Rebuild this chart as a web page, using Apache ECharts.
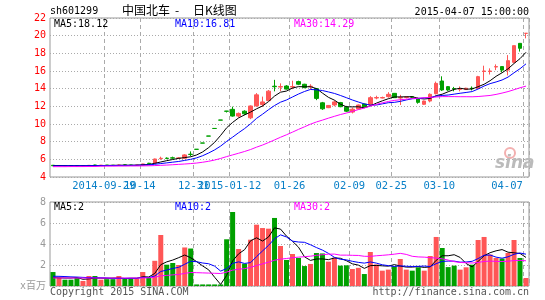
<!DOCTYPE html>
<html><head><meta charset="utf-8">
<script src="https://cdn.jsdelivr.net/npm/echarts@6/dist/echarts.min.js"></script>
<style>html,body{margin:0;padding:0;background:#fff}#c{width:545px;height:300px}</style>
</head><body><div id="c"></div>
<script>
const stockCode = 'sh601299';
const stockName = '中国北车';
const chartKind = '日K线图';
const timestamp = '2015-04-07 15:00:00';
const priceLegend = ['MA5:18.12', 'MA10:16.81', 'MA30:14.29'];
const volLegend = ['MA5:2', 'MA10:2', 'MA30:2'];
const volUnit = 'x百万';
const copyrightText = 'Copyright 2015 SINA.COM';
const siteText = 'http://finance.sina.com.cn';

const dates = ['2014-09-16','2014-09-17','2014-09-18','2014-09-19','2014-09-22','2014-09-23','2014-09-24','2014-09-25','2014-09-26','2014-09-29',
'2014-09-30','2014-10-08','2014-10-09','2014-10-10','2014-10-13','2014-10-14','2014-10-15','2014-10-16','2014-10-17','2014-10-20',
'2014-10-21','2014-10-22','2014-10-23','2014-10-24','2014-12-31','2015-01-05','2015-01-06','2015-01-07','2015-01-08','2015-01-09',
'2015-01-12','2015-01-13','2015-01-14','2015-01-15','2015-01-16','2015-01-19','2015-01-20','2015-01-21','2015-01-22','2015-01-23',
'2015-01-26','2015-01-27','2015-01-28','2015-01-29','2015-01-30','2015-02-02','2015-02-03','2015-02-04','2015-02-05','2015-02-06',
'2015-02-09','2015-02-10','2015-02-11','2015-02-12','2015-02-13','2015-02-16','2015-02-17','2015-02-25','2015-02-26','2015-02-27',
'2015-03-02','2015-03-03','2015-03-04','2015-03-05','2015-03-06','2015-03-10','2015-03-11','2015-03-12','2015-03-13','2015-03-16',
'2015-03-17','2015-03-18','2015-03-19','2015-03-20','2015-03-30','2015-03-31','2015-04-01','2015-04-02','2015-04-03','2015-04-07'];

const tickDates = ['2014-09-29','2014-10-14','2014-12-31','2015-01-12','2015-01-26','2015-02-09','2015-02-25','2015-03-10','2015-04-07'];
const tickLabels = ['2014-09-29','10-14','12-31','2015-01-12','01-26','02-09','02-25','03-10','04-07'];

const opens = [5.33,5.27,5.30,5.29,5.28,5.26,5.28,5.36,5.31,5.34,
5.33,5.31,5.37,5.35,5.33,5.36,5.56,5.55,6.08,6.13,
6.17,6.12,6.12,6.58,7.14,7.85,8.64,9.50,10.45,11.46,
11.66,10.90,11.45,10.70,12.05,12.20,12.65,14.28,14.18,14.30,
14.18,14.80,14.50,14.22,14.00,12.40,11.85,12.15,12.42,11.90,
11.35,11.70,12.26,12.15,12.94,12.94,13.10,13.47,12.94,13.02,
13.08,12.83,12.23,12.60,13.43,14.87,14.23,14.00,13.92,13.90,
14.05,14.04,15.95,15.95,16.45,16.50,16.10,16.98,19.13,20.26];
const closes = [5.27,5.30,5.28,5.27,5.26,5.28,5.32,5.31,5.34,5.32,
5.31,5.36,5.35,5.33,5.36,5.48,5.52,6.04,6.12,6.10,
6.14,6.16,6.50,6.55,7.13,7.84,8.63,9.49,10.44,11.44,
10.90,11.20,11.15,12.04,13.30,12.50,13.72,14.22,14.24,13.95,
14.24,14.50,14.12,14.28,12.90,11.72,12.10,12.50,11.96,11.45,
11.68,12.15,11.98,12.98,13.00,13.00,13.36,12.98,13.00,13.06,
13.04,12.45,12.60,13.36,14.60,13.85,13.85,13.96,13.98,14.05,
14.00,15.36,16.00,16.00,16.50,16.10,17.17,18.87,18.57,20.27];
const lows = [5.25,5.25,5.26,5.25,5.24,5.25,5.26,5.29,5.30,5.30,
5.29,5.30,5.32,5.31,5.32,5.35,5.48,5.52,5.95,6.02,
6.05,6.05,6.05,6.35,7.13,7.84,8.63,9.49,10.44,11.30,
10.83,10.75,11.00,10.55,11.95,11.95,12.60,13.70,13.72,13.90,
13.95,14.40,14.05,13.90,12.70,11.60,11.80,12.00,11.90,11.35,
11.20,11.65,11.90,12.10,12.80,12.90,12.98,12.95,12.15,12.90,
12.95,12.30,12.15,12.45,13.36,13.75,13.75,13.70,13.70,13.85,
13.80,14.00,14.90,15.60,16.10,15.85,15.50,16.90,18.20,19.70];
const highs = [5.35,5.32,5.31,5.30,5.30,5.29,5.34,5.38,5.36,5.35,
5.34,5.40,5.40,5.37,5.38,5.50,5.60,6.08,6.30,6.22,
6.30,6.25,6.58,6.90,7.14,7.85,8.64,9.50,10.45,11.48,
11.96,11.30,11.55,12.10,13.50,13.10,13.85,15.00,14.60,14.40,
14.90,14.90,14.55,14.50,14.05,12.50,12.15,12.65,12.50,12.05,
11.85,12.20,12.30,13.15,13.20,13.10,13.60,13.50,13.30,13.12,
13.12,12.98,12.65,13.47,14.80,15.40,14.30,14.20,14.25,14.10,
14.25,15.45,16.60,16.30,16.75,16.50,17.80,18.87,19.13,20.27];
const volumes = [1.33,0.76,0.60,0.60,0.76,0.48,0.95,0.95,0.60,0.65,
0.65,0.95,0.70,0.70,0.70,1.33,0.86,2.40,4.86,2.03,
2.19,2.00,3.67,3.57,0.15,0.15,0.15,0.15,0.15,4.45,
7.05,3.52,2.13,4.41,5.84,5.52,5.46,6.48,3.81,2.48,
3.05,2.67,1.90,2.10,3.14,3.10,2.32,2.70,1.94,1.97,
1.62,1.73,1.14,3.24,2.05,1.46,1.56,1.87,2.57,1.56,
1.46,1.78,1.46,2.86,4.67,3.62,1.80,1.94,1.56,1.78,
2.03,4.38,4.67,3.00,2.67,2.62,3.15,4.38,2.67,0.76];

const ma5 = [5.30,5.30,5.29,5.28,5.28,5.28,5.28,5.29,5.30,5.31,
5.32,5.33,5.34,5.33,5.34,5.38,5.41,5.55,5.70,5.85,
5.98,6.11,6.20,6.29,6.50,6.84,7.33,7.93,8.71,9.57,
10.18,10.69,11.03,11.35,11.72,12.04,12.54,13.16,13.60,13.73,
14.07,14.23,14.21,14.22,14.01,13.50,13.02,12.70,12.24,11.95,
11.94,11.95,11.84,12.05,12.36,12.62,12.86,13.06,13.07,13.08,
13.09,12.91,12.83,12.90,13.21,13.37,13.65,13.92,14.05,13.94,
13.97,14.22,14.50,14.90,15.40,15.80,16.25,16.85,17.40,18.12];
const ma10 = [5.26,5.26,5.27,5.27,5.27,5.27,5.28,5.28,5.29,5.30,
5.30,5.31,5.31,5.32,5.33,5.35,5.37,5.44,5.52,5.60,
5.68,5.76,5.88,6.00,6.17,6.41,6.72,7.07,7.50,8.03,
8.51,9.01,9.48,10.03,10.64,11.11,11.62,12.09,12.47,12.72,
13.06,13.39,13.68,13.91,13.87,13.79,13.63,13.46,13.23,12.98,
12.72,12.49,12.27,12.14,12.15,12.28,12.41,12.45,12.56,12.72,
12.86,12.89,12.95,12.99,13.15,13.23,13.28,13.38,13.48,13.57,
13.67,13.96,14.30,14.57,14.76,14.98,15.31,15.80,16.26,16.81];
const ma30 = [5.17,5.17,5.17,5.18,5.18,5.18,5.19,5.19,5.22,5.23,
5.23,5.24,5.24,5.25,5.25,5.26,5.27,5.29,5.32,5.35,
5.39,5.43,5.47,5.52,5.58,5.67,5.78,5.92,6.10,6.31,
6.50,6.69,6.89,7.11,7.38,7.62,7.90,8.20,8.50,8.78,
9.08,9.39,9.68,9.98,10.23,10.44,10.66,10.87,11.07,11.24,
11.43,11.63,11.81,12.03,12.22,12.39,12.55,12.67,12.75,12.81,
12.88,12.92,12.97,13.01,13.06,13.10,13.10,13.10,13.09,13.09,
13.08,13.11,13.17,13.23,13.35,13.50,13.67,13.88,14.10,14.29];
const vma5 = [0.80,0.78,0.76,0.76,0.81,0.64,0.68,0.75,0.75,0.73,
0.76,0.76,0.71,0.73,0.74,0.88,0.86,1.20,2.03,2.30,
2.47,2.70,2.95,2.69,2.32,1.91,1.54,0.83,0.15,1.01,
2.39,3.06,3.46,4.31,4.59,4.28,4.67,5.54,5.42,4.75,
4.26,3.70,2.78,2.44,2.57,2.58,2.51,2.67,2.64,2.41,
2.11,1.99,1.68,1.94,1.96,1.92,1.89,2.04,1.90,1.80,
1.80,1.85,1.77,1.82,2.45,2.88,2.88,2.98,2.72,2.14,
1.82,2.34,2.88,3.17,3.35,3.47,3.22,3.16,3.10,2.72];
const vma10 = [0.93,0.92,0.90,0.87,0.85,0.82,0.80,0.79,0.78,0.77,
0.70,0.72,0.73,0.74,0.73,0.82,0.81,0.95,1.38,1.52,
1.67,1.78,2.07,2.36,2.31,2.19,2.12,1.89,1.42,1.66,
2.15,2.30,2.15,2.23,2.80,3.34,3.87,4.50,4.87,4.67,
4.27,4.19,4.16,3.93,3.66,3.42,3.11,2.73,2.54,2.49,
2.35,2.25,2.18,2.29,2.18,2.02,1.94,1.86,1.92,1.88,
1.86,1.87,1.90,1.86,2.13,2.34,2.37,2.37,2.27,2.29,
2.35,2.61,2.93,2.95,2.75,2.65,2.78,3.02,3.14,3.03];
const vma30 = [0.77,0.77,0.77,0.76,0.76,0.76,0.76,0.76,0.76,0.76,
0.76,0.76,0.76,0.76,0.76,0.77,0.78,0.83,0.97,1.01,
1.06,1.10,1.20,1.29,1.27,1.25,1.23,1.21,1.19,1.32,
1.51,1.60,1.65,1.78,1.95,2.11,2.27,2.45,2.56,2.62,
2.70,2.75,2.79,2.84,2.92,2.98,3.03,3.04,2.94,2.94,
2.92,2.91,2.83,2.82,2.88,2.92,2.97,3.03,3.11,3.01,
2.83,2.77,2.75,2.70,2.66,2.59,2.47,2.32,2.24,2.22,
2.19,2.24,2.34,2.37,2.35,2.33,2.36,2.42,2.44,2.40];

const MONO = '"DejaVu Sans Mono", "Liberation Mono", monospace';
const CJK = '"Noto Sans CJK SC", sans-serif';
const RED = '#ff5656', GREEN = '#00a000';
const LABEL_BLUE = '#0a80c8';
const GRID_L = 50, GRID_R = 16;

const tickIdx = tickDates.map(d => dates.indexOf(d));
// alternate labels between two stacked bottom axes so the overlapping pairs both stay visible
const labelSetA = tickDates.filter((d, k) => k % 2 === 0);
const labelSetB = tickDates.filter((d, k) => k % 2 === 1);
const candleData = dates.map((d, i) => [opens[i], closes[i], lows[i], highs[i]]);
const volData = volumes.map((v, i) => ({ value: v, itemStyle: { color: closes[i] > opens[i] ? RED : GREEN } }));

function labelCfg(set) {
  return {
    show: true, margin: 4, hideOverlap: false,
    interval: (i, v) => set.indexOf(dates[i]) >= 0,
    color: LABEL_BLUE, fontFamily: MONO, fontSize: 10.5,
    formatter: (v) => {
      const k = tickDates.indexOf(v);
      return (k === tickDates.length - 1 ? '{e|' : '{a|') + tickLabels[k] + '}';
    },
    rich: {
      a: { padding: [0, 6, 0, 0], color: LABEL_BLUE, fontFamily: MONO, fontSize: 10.5 },
      e: { padding: [0, 38, 0, 0], color: LABEL_BLUE, fontFamily: MONO, fontSize: 10.5 }
    }
  };
}

function xAxisCfg(gridIndex, labelSet, showSplit) {
  return {
    type: 'category', gridIndex: gridIndex, data: dates, boundaryGap: true,
    position: 'bottom', offset: 0,
    axisLine: { show: false }, axisTick: { show: false },
    splitLine: { show: showSplit, interval: (i) => tickIdx.indexOf(i) >= 0,
      lineStyle: { color: '#aaaaaa', width: 1, type: [4, 3] } },
    axisLabel: labelSet ? labelCfg(labelSet) : { show: false }
  };
}

function lineSeries(name, data, color, xi, yi) {
  return { name: name, type: 'line', xAxisIndex: xi, yAxisIndex: yi, data: data,
    symbol: 'none', smooth: false, z: 5, silent: true,
    lineStyle: { color: color, width: 1 } };
}

function txt(x, y, text, color, opts) {
  return { type: 'text', x: x, y: y, silent: true, z: 100,
    style: Object.assign({ text: text, fill: color, font: '10px ' + MONO,
      textAlign: 'left', textVerticalAlign: 'middle' }, opts || {}) };
}

const chart = echarts.init(document.getElementById('c'), null, { renderer: 'canvas', width: 545, height: 300 });
chart.setOption({
  animation: false,
  backgroundColor: '#ffffff',
  grid: [
    { left: GRID_L, right: GRID_R, top: 18, height: 159, show: true, borderColor: '#999999', borderWidth: 1, outerBoundsMode: 'none' },
    { left: GRID_L, right: GRID_R, top: 202, height: 84, show: true, borderColor: '#999999', borderWidth: 1, outerBoundsMode: 'none' }
  ],
  xAxis: [ xAxisCfg(0, labelSetA, true), xAxisCfg(1, null, true), xAxisCfg(0, labelSetB, false) ],
  yAxis: [
    { type: 'value', gridIndex: 0, min: 4, max: 22, interval: 2, scale: false,
      axisLine: { show: false }, axisTick: { show: false },
      axisLabel: { color: '#ff0000', fontFamily: MONO, fontSize: 10, margin: 4 },
      splitLine: { lineStyle: { color: '#aaaaaa', width: 1, type: [1, 2] } } },
    { type: 'value', gridIndex: 1, min: 0, max: 8, interval: 2,
      axisLine: { show: false }, axisTick: { show: false },
      axisLabel: { color: '#999999', fontFamily: MONO + ', ' + CJK, fontSize: 10, margin: 4,
        formatter: (v) => v === 0 ? volUnit : String(v) },
      splitLine: { lineStyle: { color: '#aaaaaa', width: 1, type: [1, 2] } } }
  ],
  series: [
    { name: 'K', type: 'candlestick', xAxisIndex: 0, yAxisIndex: 0, data: candleData,
      barWidth: 4, z: 3, silent: true,
      itemStyle: { color: RED, color0: GREEN, borderColor: RED, borderColor0: GREEN, borderWidth: 1 } },
    lineSeries('MA5', ma5, '#000000', 0, 0),
    lineSeries('MA10', ma10, '#0000ff', 0, 0),
    lineSeries('MA30', ma30, '#ff00ff', 0, 0),
    { name: 'VOL', type: 'bar', xAxisIndex: 1, yAxisIndex: 1, data: volData, barWidth: 5, z: 3, silent: true },
    lineSeries('VMA5', vma5, '#000000', 1, 1),
    lineSeries('VMA10', vma10, '#0000ff', 1, 1),
    lineSeries('VMA30', vma30, '#ff00ff', 1, 1)
  ],
  graphic: [
    txt(50, 11, stockCode, '#000000'),
    txt(122, 10, stockName, '#000000', { font: '12px ' + CJK }),
    txt(175, 10, '-', '#000000', { font: '12px ' + CJK }),
    txt(193, 10, chartKind, '#000000', { font: '12px ' + CJK }),
    txt(529, 12, timestamp, '#000000', { textAlign: 'right' }),
    txt(54, 24, priceLegend[0], '#000000'),
    txt(175, 24, priceLegend[1], '#0000ff'),
    txt(294, 24, priceLegend[2], '#ff00ff'),
    txt(54, 207, volLegend[0], '#000000'),
    txt(175, 207, volLegend[1], '#0000ff'),
    txt(294, 207, volLegend[2], '#ff00ff'),
    txt(50, 292, copyrightText, '#555555'),
    txt(529, 292, siteText, '#555555', { textAlign: 'right' }),
    { type: 'circle', shape: { cx: 510, cy: 153, r: 5 }, silent: true, z: 1,
      style: { fill: 'none', stroke: '#f3b0b0', lineWidth: 2 } },
    txt(495, 164, 'sina', '#bbbbbb', { font: 'italic bold 17px "DejaVu Sans", sans-serif' })
  ]
});
</script>
</body></html>
